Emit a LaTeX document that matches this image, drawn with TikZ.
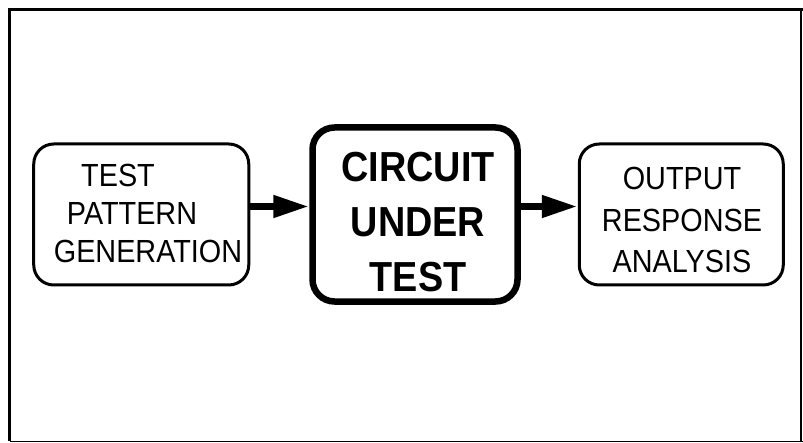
\documentclass[tikz,border=0pt]{standalone}
\usepackage{fontspec}
\newfontfamily\letterfont[FakeStretch=0.9]{Liberation Sans}
\usetikzlibrary{arrows.meta}
\usetikzlibrary{positioning}

\begin{document}
\begin{tikzpicture}[x=1bp,y=-1bp,>={Triangle[length=36bp,width=21bp]},
block/.style={draw,rounded corners=20bp,line width=3bp,inner sep=0pt,minimum height=141bp},
cutblock/.style={block,line width=6.5bp,rounded corners=22bp,minimum height=174bp},
plaintext/.style={align=center,inner sep=0pt,font=\letterfont\fontsize{32bp}{38bp}\selectfont},
boldtext/.style={align=center,inner sep=0pt,font=\letterfont\bfseries\fontsize{42bp}{55bp}\selectfont},
flow/.style={->,line width=7.5bp}]

\useasboundingbox (0,0) rectangle (803,443);

% frame
\draw [line width=3.5bp] (803,9.5) -- (9.5,9.5) -- (9.5,441);
\draw [line width=1.2bp] (9.5,441.5) -- (803,441.5);
\draw [line width=2bp] (800.5,9.5) -- (800.5,441.5);

% blocks
\node [block,minimum width=215bp] (tpg) at (141.25,214.5) {};
\node [cutblock,minimum width=205bp,right=59bp of tpg] (cut) {};
\node [block,minimum width=204bp,right=57bp of cut] (ora) {};

\node [plaintext] (tpglbl) at (141,213) {\hspace*{-46bp}TEST\\\hspace*{-18bp}PATTERN\\\hspace*{14bp}GENERATION};
\node [boldtext] (cutlbl) at (418,222) {CIRCUIT\\UNDER\\TEST};
\node [plaintext,font=\letterfont\fontsize{32bp}{41.5bp}\selectfont] (oralbl) at (682,220) {OUTPUT\\RESPONSE\\ANALYSIS};

% arrows
\draw [flow] ([yshift=8bp]tpg.east) -- ([yshift=8bp]tpg.east -| cut.west);
\draw [flow] ([yshift=8bp]cut.east) -- ([yshift=8bp]cut.east -| ora.west);
\end{tikzpicture}
\end{document}
